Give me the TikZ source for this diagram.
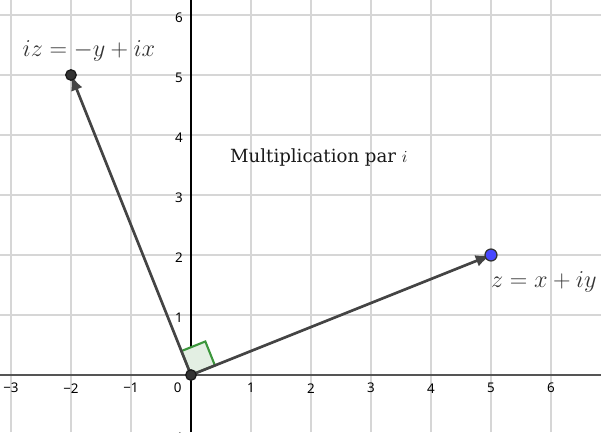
\documentclass[tikz,border=0pt]{standalone}
\usepackage{fontspec}
\setmainfont{Noto Sans}
\newfontfamily\slabfont{DejaVu Serif}
\usetikzlibrary{arrows.meta}
\definecolor{gridgray}{HTML}{D6D6D6}
\definecolor{axisgray}{HTML}{555555}
\definecolor{vecgray}{HTML}{444444}
\definecolor{anglegreen}{HTML}{3C963C}
\definecolor{anglefill}{HTML}{E3EFE3}
\definecolor{ptblue}{HTML}{4747FF}
\definecolor{ptdark}{HTML}{333333}
\tikzset{
  gridline/.style={draw=gridgray, line width=0.9pt},
  xaxis/.style={draw=axisgray, line width=1.3pt},
  yaxis/.style={draw=black, line width=0.8pt},
  ticklabel/.style={font=\fontsize{9.5}{10}\selectfont, text=black, inner sep=0pt},
  vector/.style={draw=vecgray, line width=1.9pt, -{Latex[length=11pt,width=8.5pt]}},
  rightangle/.style={draw=anglegreen, fill=anglefill, line width=1.5pt},
  darkpt/.style={circle, fill=ptdark, draw=black!90, line width=0.9pt, minimum size=7.5pt, inner sep=0pt},
  bluept/.style={circle, fill=ptblue, draw=black!80, line width=0.9pt, minimum size=8.5pt, inner sep=0pt},
  mathlabel/.style={font=\fontsize{16}{18}\selectfont, text=black!80, inner sep=0pt},
  textlabel/.style={font=\slabfont\fontsize{12.9}{15}\selectfont, text=black!90, inner sep=0pt}
}
\begin{document}
\begin{tikzpicture}[x=1.5cm, y=1.5cm]
\useasboundingbox (-3.183,-0.95) rectangle (6.833,6.25);
\clip (-3.183,-0.95) rectangle (6.833,6.25);
% grid
\foreach \k in {-3,...,6} \draw[gridline] (\k,-0.95) -- (\k,6.25);
\foreach \k in {-1,1,2,...,6} \draw[gridline] (-3.183,\k) -- (6.833,\k);
% axes
\draw[xaxis] (-3.183,0) -- (6.833,0);
\draw[yaxis] (0,-0.95) -- (0,6.25);
% tick labels
\foreach \k in {1,...,6} \node[ticklabel] (xl\k) at (\k,-0.22) {\k};
\node[ticklabel] (xlm1) at (-1,-0.22) {−1};
\node[ticklabel] (xlm2) at (-2,-0.22) {−2};
\node[ticklabel] (xlm3) at (-3,-0.22) {−3};
\node[ticklabel] (xl0) at (-0.22,-0.22) {0};
\foreach \k in {1,...,6} \node[ticklabel] (yl\k) at (-0.2,\k-0.04) {\k};
\node[ticklabel] (ylm1) at (-0.25,-1.04) {−1};
% points
\coordinate (O) at (0,0);
\coordinate (Z) at (5,2);
\coordinate (IZ) at (-2,5);
% right angle marker
\draw[rightangle] (O) -- (0.399,0.160) -- (0.239,0.559) -- (-0.160,0.399) -- cycle;
% vectors
\draw[vector] (O) -- (Z);
\draw[vector] (O) -- (IZ);
% point dots
\node[darkpt] (o) at (O) {};
\node[darkpt] (iz) at (IZ) {};
\node[bluept] (z) at (Z) {};
% labels
\node[mathlabel] (lz) at (5.88,1.55) {$z = x + iy$};
\node[mathlabel] (liz) at (-1.70,5.40) {$iz = -y + ix$};
\node[textlabel] (title) at (2.13,3.63) {Multiplication par $i$};
\end{tikzpicture}
\end{document}
